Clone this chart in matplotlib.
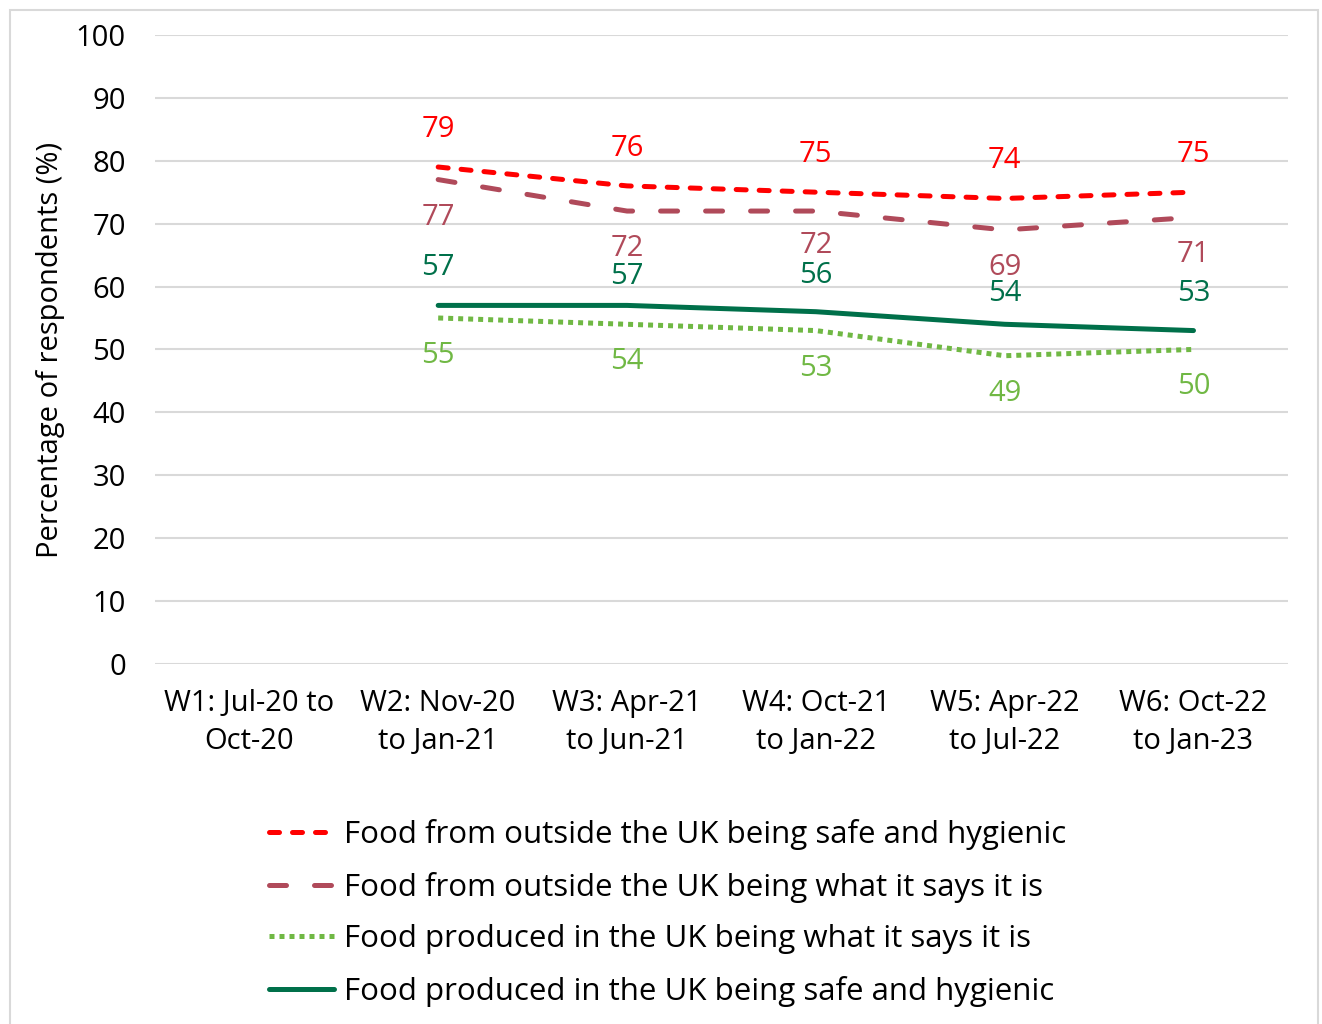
import matplotlib.pyplot as plt
import numpy as np
from matplotlib.patches import Rectangle

plt.rcParams['font.family'] = ['Open Sans', 'DejaVu Sans']

# data
waves = ['W1: Jul-20 to\nOct-20', 'W2: Nov-20\nto Jan-21', 'W3: Apr-21\nto Jun-21',
         'W4: Oct-21\nto Jan-22', 'W5: Apr-22\nto Jul-22', 'W6: Oct-22\nto Jan-23']
outside_safe = [np.nan, 79, 76, 75, 74, 75]
outside_what = [np.nan, 77, 72, 72, 69, 71]
uk_what = [np.nan, 55, 54, 53, 49, 50]
uk_safe = [np.nan, 57, 57, 56, 54, 53]

labels = ['Food from outside the UK being safe and hygienic',
          'Food from outside the UK being what it says it is',
          'Food produced in the UK being what it says it is',
          'Food produced in the UK being safe and hygienic']

# small label nudges (points) where labels would collide
nudge = {(3, 2): -6, (3, 4): -5, (1, 3): 2, (3, 3): -1}

fig = plt.figure(figsize=(13.22, 10.24), dpi=100)
ax = fig.add_axes([0.1172, 0.3516, 0.857, 0.6143])

# figure border
fig.patches.append(Rectangle((0.0076, -0.01), 0.9894, 1.0, transform=fig.transFigure,
                             fill=False, edgecolor='#D9D9D9', linewidth=1.5))

x = np.arange(len(waves))
lw = 3.6
series = [
    (outside_safe, '#FF0000', (0, (2, 2.6)), 'round', 1),
    (outside_what, '#B04A5A', (0, (3.4, 5.6)), 'round', -1),
    (uk_what, '#70B844', (0, (1, 1)), 'butt', -1),
    (uk_safe, '#00704A', '-', 'round', 1),
]
handles = []
for si, ((vals, col, ls, cap, side), lab) in enumerate(zip(series, labels)):
    h, = ax.plot(x, vals, color=col, linestyle=ls, linewidth=lw,
                 dash_capstyle=cap, solid_capstyle='round', label=lab, zorder=3)
    handles.append(h)
    for xi, v in zip(x, vals):
        if np.isnan(v):
            continue
        off = 27 * side + nudge.get((si, xi), 0)
        ax.annotate(f'{v:g}', (xi, v), xytext=(0, off), textcoords='offset points',
                    ha='center', va='center', color=col, fontsize=21)

ax.set_xlim(-0.5, 5.5)
ax.set_ylim(0, 100)
ax.set_yticks(range(0, 101, 10))
ax.set_xticks(x)
ax.set_xticklabels(waves, fontsize=21, linespacing=1.4)
ax.tick_params(axis='y', labelsize=21, length=0, pad=21)
ax.tick_params(axis='x', length=0, pad=18)
ax.grid(axis='y', color='#D9D9D9', linewidth=1.5, zorder=0)
ax.set_axisbelow(True)
for s in ax.spines.values():
    s.set_visible(False)
ax.set_ylabel('Percentage of respondents (%)', fontsize=21, labelpad=8)

fig.legend(handles=handles, loc='upper center', bbox_to_anchor=(0.505, 0.228),
           frameon=False, fontsize=22.5, handlelength=2.1, handletextpad=0.32,
           labelspacing=0.7)

fig.savefig('out.png', dpi=100)
